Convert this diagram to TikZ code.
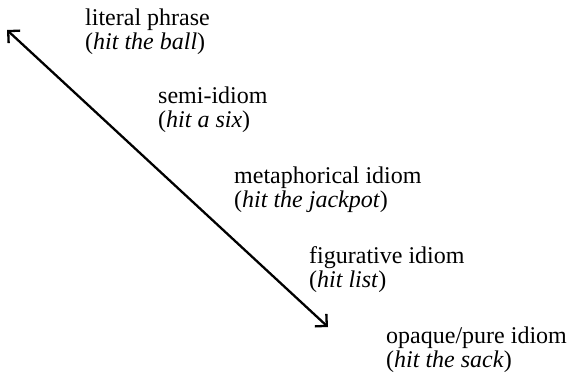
\documentclass[tikz,border=0pt]{standalone}
\usepackage{fontspec}
\setmainfont{Liberation Serif}
\usetikzlibrary{arrows.meta}
\tikzset{
  item/.style={anchor=base west, inner sep=0pt, font=\fontsize{24}{24}\selectfont},
  barb/.tip={Straight Barb[angle=90:12pt, line join=miter, line cap=butt]},
  scale line/.style={line width=2.3pt, barb-barb}
}
\newcommand{\twolines}[2]{\begin{tabular}[t]{@{}l@{}}#1\\[0.5pt]#2\end{tabular}}
\begin{document}
\begin{tikzpicture}[x=1pt,y=-1pt]
\useasboundingbox (0,0) rectangle (571,378);
\node[item] (lit) at (85,25) {\twolines{literal phrase}{(\textit{hit the ball})}};
\node[item] (semi) at (158,103) {\twolines{semi-idiom}{(\textit{hit a six})}};
\node[item] (meta) at (234,183) {\twolines{metaphorical idiom}{(\textit{hit the jackpot})}};
\node[item] (fig) at (309,263) {\twolines{figurative idiom}{(\textit{hit list})}};
\node[item] (opq) at (386,343) {\twolines{opaque/pure idiom}{(\textit{hit the sack})}};
\coordinate (top) at (7,30);
\coordinate (bot) at (328,327);
\draw[scale line] (top) -- (bot);
\end{tikzpicture}
\end{document}
